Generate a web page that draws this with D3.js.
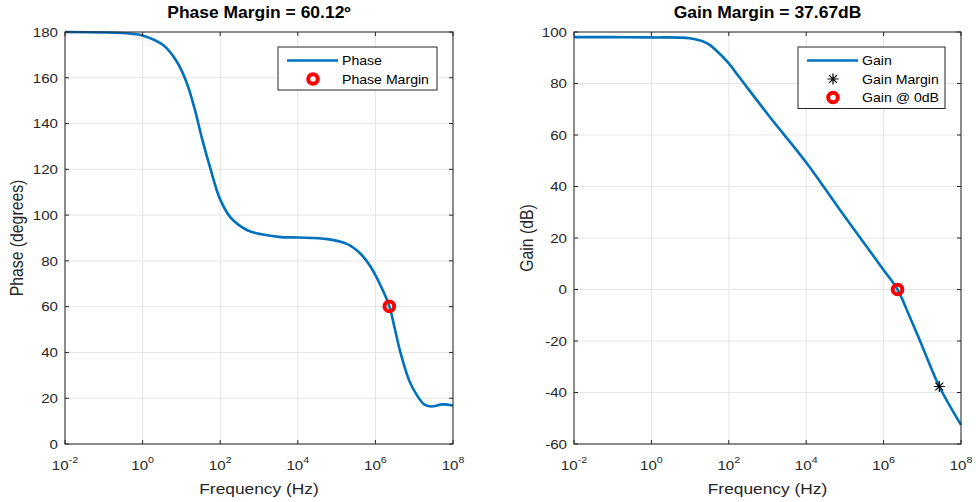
<!DOCTYPE html>
<html>
<head>
<meta charset="utf-8">
<script src="https://cdn.jsdelivr.net/npm/d3@7"></script>
<style>
  body { margin: 0; background: #fff; }
  svg { display: block; font-family: "Liberation Sans", Arial, sans-serif; }
</style>
</head>
<body>
<div id="chart"></div>
<script>
const width = 976
const height = 502

// phase curve (Hz, degrees)
const phaseFreq = [1e-2, 1e-1, 0.48, 1, 3.5, 7.8, 14, 23, 34, 56, 98, 186, 500, 1150, 3600, 1e4, 5.8e4, 1.9e5, 4.2e5, 7.6e5, 1.38e6, 2.29e6, 3.1e6, 4.4e6, 7.4e6, 1.12e7, 1.8e7, 2.7e7, 5.5e7, 1e8]
const phaseDeg = [180, 179.8, 179.3, 178.5, 174.1, 166.8, 157.4, 145.1, 133.4, 120.3, 107.2, 98.9, 93.4, 91.6, 90.4, 90.2, 89.5, 87.3, 83, 77.3, 69, 60.12, 51, 40.1, 27.8, 21.9, 17.3, 16.4, 17.3, 16.8]

// gain curve (Hz, dB)
const gainFreq = [1e-2, 1e-1, 1, 9.8, 21, 32, 46, 95, 190, 1150, 9.8e3, 7.4e4, 1e6, 2.29e6, 4.7e6, 8.5e6, 2.75e7, 9.3e7, 1e8]
const gainDb = [98, 98, 97.9, 97.6, 96.4, 95, 93, 88.2, 82.3, 67, 49.5, 31, 7.6, 0, -10.5, -19.5, -37.67, -51.8, -52.6]

// markers
const pmFreq = 2.29e6, pmValue = 60.12
const gmFreq = 2.75e7, gmValue = -37.67
const zeroFreq = 2.29e6, zeroValue = 0

const xTickExp = [-2, 0, 2, 4, 6, 8]
const phaseTicks = [0, 20, 40, 60, 80, 100, 120, 140, 160, 180]
const gainTicks = [-60, -40, -20, 0, 20, 40, 60, 80, 100]

const blue = "#0072bd"
const axisColor = "#262626"
const gridColor = "#e5e5e5"
const sx = 1.12   // the picture is a bit wider than tall, text too

const svg = d3.select("#chart")
  .append("svg")
  .attr("width", width)
  .attr("height", height)

// text stretched sideways
function label(g, x, y, size, anchor, str) {
  return g.append("text")
    .attr("transform", `translate(${x},${y}) scale(${sx},1)`)
    .attr("text-anchor", anchor)
    .attr("font-size", size)
    .attr("fill", axisColor)
    .text(str)
}

function panel(opt) {
  const x = d3.scaleLog().domain([1e-2, 1e8]).range([opt.left, opt.right])
  const y = d3.scaleLinear().domain(opt.yDomain).range([444, 32])
  const g = svg.append("g")

  // grid
  g.selectAll(".gx").data(xTickExp).join("line")
    .attr("x1", d => x(Math.pow(10, d))).attr("x2", d => x(Math.pow(10, d)))
    .attr("y1", y.range()[0]).attr("y2", y.range()[1])
    .attr("stroke", gridColor).attr("stroke-width", 1)
  g.selectAll(".gy").data(opt.yTicks).join("line")
    .attr("x1", opt.left).attr("x2", opt.right)
    .attr("y1", d => y(d)).attr("y2", d => y(d))
    .attr("stroke", gridColor).attr("stroke-width", 1)

  // curve
  const line = d3.line()
    .x(d => x(d[0]))
    .y(d => y(d[1]))
    .curve(d3.curveCatmullRom.alpha(0.5))
  g.append("path")
    .datum(d3.zip(opt.freq, opt.vals))
    .attr("d", line)
    .attr("fill", "none")
    .attr("stroke", blue)
    .attr("stroke-width", 2.6)

  // box + inward ticks
  g.append("rect")
    .attr("x", opt.left).attr("y", 32)
    .attr("width", opt.right - opt.left).attr("height", 412)
    .attr("fill", "none").attr("stroke", axisColor).attr("stroke-width", 1)
  xTickExp.forEach(e => {
    const px = x(Math.pow(10, e))
    g.append("line").attr("x1", px).attr("x2", px).attr("y1", 444).attr("y2", 440).attr("stroke", axisColor)
    g.append("line").attr("x1", px).attr("x2", px).attr("y1", 32).attr("y2", 36).attr("stroke", axisColor)
    const t = label(g, px, 470, 13.5, "middle", null)
    t.append("tspan").text("10")
    t.append("tspan").attr("dy", -7).attr("font-size", 9.5).text(e)
  })
  opt.yTicks.forEach(v => {
    const py = y(v)
    g.append("line").attr("x1", opt.left).attr("x2", opt.left + 4).attr("y1", py).attr("y2", py).attr("stroke", axisColor)
    g.append("line").attr("x1", opt.right).attr("x2", opt.right - 4).attr("y1", py).attr("y2", py).attr("stroke", axisColor)
    label(g, opt.left - 7, py + 4.8, 13.5, "end", v)
  })

  // labels
  label(g, (opt.left + opt.right) / 2, 494, 15.5, "middle", "Frequency (Hz)")
  g.append("text")
    .attr("transform", `translate(${opt.ylabelX},238) scale(${sx},1) rotate(-90)`)
    .attr("text-anchor", "middle").attr("font-size", 15.8).attr("fill", axisColor)
    .text(opt.ylabel)
  label(g, (opt.left + opt.right) / 2, 18, 15.6, "middle", opt.title)
    .attr("font-weight", "bold")
    .attr("fill", "#000")

  return { g, x, y }
}

function ring(g, cx, cy) {
  g.append("circle").attr("cx", cx).attr("cy", cy).attr("r", 4.8)
    .attr("fill", "none").attr("stroke", "#ff0000").attr("stroke-width", 4)
}
function star(g, cx, cy) {
  const s = 5.5, d = 3.9
  const p = `M${cx - s},${cy}L${cx + s},${cy}M${cx},${cy - s}L${cx},${cy + s}` +
    `M${cx - d},${cy - d}L${cx + d},${cy + d}M${cx - d},${cy + d}L${cx + d},${cy - d}`
  g.append("path").attr("d", p).attr("stroke", "#000").attr("stroke-width", 1.2).attr("fill", "none")
}

function legend(g, bx, by, bw, rows) {
  const bh = rows.length * 18.5 + 6
  g.append("rect").attr("x", bx).attr("y", by).attr("width", bw).attr("height", bh)
    .attr("fill", "#fff").attr("stroke", axisColor).attr("stroke-width", 1)
  rows.forEach((r, i) => {
    const cy = by + 13.5 + i * 18.5
    if (r.kind === "line") {
      g.append("line").attr("x1", bx + 9).attr("x2", bx + 60).attr("y1", cy).attr("y2", cy)
        .attr("stroke", blue).attr("stroke-width", 2.6)
    } else if (r.kind === "ring") {
      ring(g, bx + 35, cy)
    } else {
      star(g, bx + 35, cy)
    }
    label(g, bx + 64, cy + 4.6, 12.6, "start", r.label).attr("fill", "#000")
  })
}

// left: phase
const left = panel({
  left: 65, right: 453, yDomain: [0, 180], yTicks: phaseTicks,
  freq: phaseFreq, vals: phaseDeg, ylabel: "Phase (degrees)", ylabelX: 23,
  title: "Phase Margin = 60.12º"
})
ring(left.g, left.x(pmFreq), left.y(pmValue))
legend(left.g, 278, 47, 159, [
  { kind: "line", label: "Phase" },
  { kind: "ring", label: "Phase Margin" }
])

// right: gain
const right = panel({
  left: 574, right: 961, yDomain: [-60, 100], yTicks: gainTicks,
  freq: gainFreq, vals: gainDb, ylabel: "Gain (dB)", ylabelX: 533,
  title: "Gain Margin = 37.67dB"
})
star(right.g, right.x(gmFreq), right.y(gmValue))
ring(right.g, right.x(zeroFreq), right.y(zeroValue))
legend(right.g, 798, 47, 147, [
  { kind: "line", label: "Gain" },
  { kind: "star", label: "Gain Margin" },
  { kind: "ring", label: "Gain @ 0dB" }
])
</script>
</body>
</html>
